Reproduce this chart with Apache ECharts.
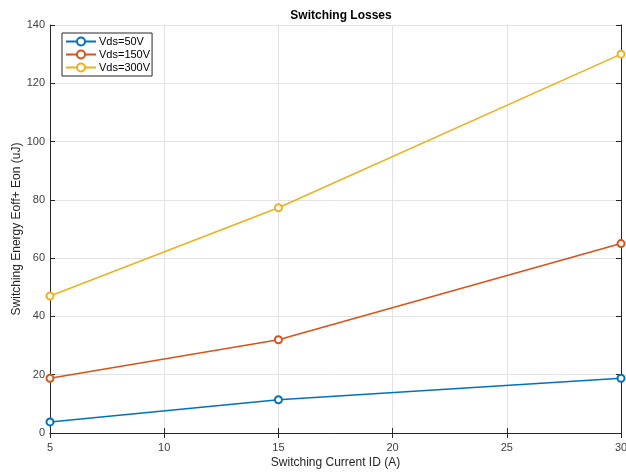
<!DOCTYPE html>
<html><head><meta charset="utf-8">
<script src="https://cdn.jsdelivr.net/npm/echarts@6/dist/echarts.min.js"></script>
<style>html,body{margin:0;padding:0;background:#fff}#c{width:626px;height:472px}</style>
</head><body><div id="c"></div>
<script>
const currents = [5, 15, 30];
const vds50 = [3.8, 11.4, 18.8];
const vds150 = [18.8, 32, 65];
const vds300 = [47, 77.3, 130];
const seriesNames = ['Vds=50V', 'Vds=150V', 'Vds=300V'];
const colors = ['#0072BD', '#D95319', '#EDB120'];
const xTicks = [5, 10, 15, 20, 25, 30];
const yTicks = [0, 20, 40, 60, 80, 100, 120, 140];

const chart = echarts.init(document.getElementById('c'));
const font = 'Helvetica, Arial, "Liberation Sans", sans-serif';
const pair = arr => currents.map((x, i) => [x, arr[i]]);
const mk = (name, data, color) => ({
  name, type: 'line', data: pair(data), symbol: 'emptyCircle', symbolSize: 7,
  lineStyle: { color, width: 1.6 }, itemStyle: { color, borderWidth: 1.4 },
  xAxisIndex: 0, yAxisIndex: 0, animation: false
});
const axLine = { show: true, lineStyle: { color: '#262626', width: 1 } };
chart.setOption({
  backgroundColor: '#fff',
  animation: false,
  textStyle: { fontFamily: font },
  title: { text: 'Switching Losses', left: 336, top: 5, textAlign: 'center',
    textStyle: { fontSize: 12, fontWeight: 'bold', color: '#000', fontFamily: font } },
  legend: {
    orient: 'vertical', left: 62, top: 33, itemGap: 2, itemWidth: 30, itemHeight: 10,
    padding: [3, 2, 3, 3],
    borderColor: '#262626', borderWidth: 1, backgroundColor: '#fff',
    textStyle: { fontSize: 11, color: '#000', fontFamily: font, padding: [0, 0, 0, -2] },
    data: seriesNames
  },
  grid: { left: 50, right: 5, top: 25, bottom: 39, containLabel: false, outerBoundsMode: 'none' },
  xAxis: [{
    type: 'value', min: 5, max: 30, interval: 5,
    name: 'Switching Current ID (A)', nameLocation: 'middle', nameGap: 24, nameMoveOverlap: false,
    nameTextStyle: { fontSize: 12, color: '#262626' },
    axisLine: axLine, axisTick: { inside: true, length: 5, lineStyle: { color: '#262626' } },
    axisLabel: { fontSize: 11, color: '#404040', margin: 9 },
    splitLine: { show: true, lineStyle: { color: '#e3e3e3', width: 1 } }
  }, {
    type: 'value', min: 5, max: 30, interval: 5, position: 'top',
    axisLine: axLine, axisTick: { inside: true, length: 5, lineStyle: { color: '#262626' } },
    axisLabel: { show: false }, splitLine: { show: false }
  }],
  yAxis: [{
    type: 'value', min: 0, max: 140, interval: 20,
    name: 'Switching Energy Eoff+ Eon (uJ)', nameLocation: 'middle', nameGap: 27, nameMoveOverlap: false,
    nameTextStyle: { fontSize: 12, color: '#262626' },
    axisLine: axLine, axisTick: { inside: true, length: 5, lineStyle: { color: '#262626' } },
    axisLabel: { fontSize: 11, color: '#404040', margin: 5 },
    splitLine: { show: true, lineStyle: { color: '#e3e3e3', width: 1 } }
  }, {
    type: 'value', min: 0, max: 140, interval: 20, position: 'right',
    axisLine: axLine, axisTick: { inside: true, length: 5, lineStyle: { color: '#262626' } },
    axisLabel: { show: false }, splitLine: { show: false }
  }],
  series: [
    mk(seriesNames[0], vds50, colors[0]),
    mk(seriesNames[1], vds150, colors[1]),
    mk(seriesNames[2], vds300, colors[2])
  ]
});
</script></body></html>
